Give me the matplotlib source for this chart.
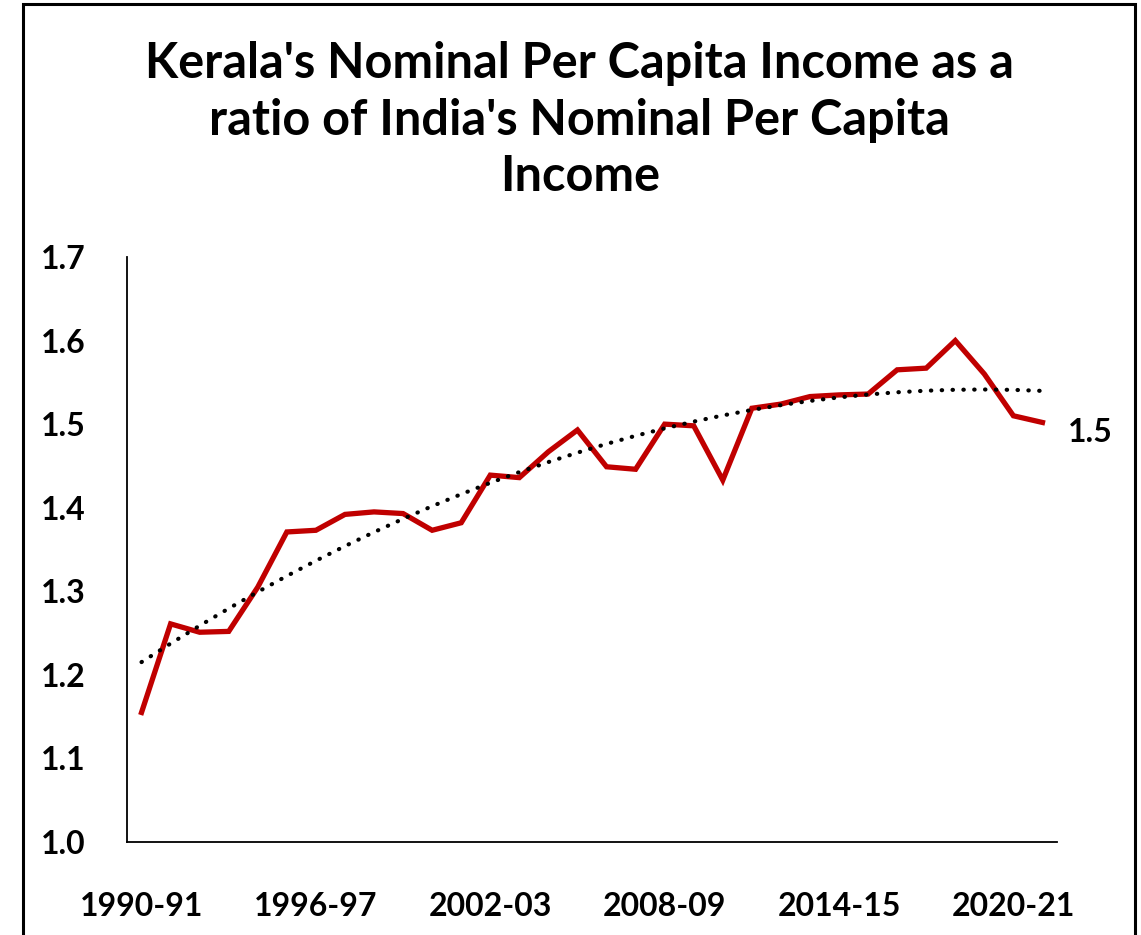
import numpy as np
import matplotlib.pyplot as plt
from matplotlib.patches import Rectangle

# Kerala per capita income / India per capita income (nominal)
years = ["1990-91", "1991-92", "1992-93", "1993-94", "1994-95", "1995-96",
         "1996-97", "1997-98", "1998-99", "1999-00", "2000-01", "2001-02",
         "2002-03", "2003-04", "2004-05", "2005-06", "2006-07", "2007-08",
         "2008-09", "2009-10", "2010-11", "2011-12", "2012-13", "2013-14",
         "2014-15", "2015-16", "2016-17", "2017-18", "2018-19", "2019-20",
         "2020-21", "2021-22"]
ratio = [1.155, 1.261, 1.251, 1.252, 1.305, 1.371, 1.373, 1.392, 1.395,
         1.393, 1.373, 1.382, 1.439, 1.436, 1.467, 1.493, 1.449, 1.446,
         1.500, 1.498, 1.433, 1.519, 1.524, 1.533, 1.535, 1.536, 1.565,
         1.567, 1.600, 1.560, 1.510, 1.502]
tick_labels = ["1990-91", "1996-97", "2002-03", "2008-09", "2014-15", "2020-21"]

font = "Lato"
red = "#C00000"

fig = plt.figure(figsize=(11.41, 9.35), dpi=100)
ax = fig.add_axes([127 / 1141, 1 - 842 / 935, 930 / 1141, 585 / 935])

x = np.arange(len(ratio))
ax.plot(x, ratio, color=red, linewidth=3.8, solid_joinstyle="miter", zorder=3)

# Excel-style polynomial (order 2) trendline
coef = np.polyfit(x + 1, ratio, 2)
trend = np.polyval(coef, x + 1)
ax.plot(x, trend, color="black", linewidth=3.0, linestyle=(0, (0.1, 2.5)),
        dash_capstyle="round", zorder=4)

ax.annotate(f"{ratio[-1]:.1f}", (x[-1], ratio[-1]), xytext=(18, -7),
            textcoords="offset points", ha="left", va="center",
            fontsize=23, fontweight="bold", family=font)

ax.set_xlim(-0.5, len(ratio) - 0.5)
ax.set_ylim(1.0, 1.7)
ax.set_yticks(np.arange(1.0, 1.71, 0.1))
ax.set_yticklabels([f"{v:.1f}" for v in np.arange(1.0, 1.71, 0.1)])
ax.set_xticks([years.index(t) for t in tick_labels])
ax.set_xticklabels(tick_labels)
ax.tick_params(length=0, labelsize=23)
ax.tick_params(axis="y", pad=46)
ax.tick_params(axis="x", pad=36)
for lab in ax.get_yticklabels():
    lab.set_ha("center")
for lab in ax.get_xticklabels() + ax.get_yticklabels():
    lab.set_fontweight("bold")
    lab.set_family(font)

ax.spines["top"].set_visible(False)
ax.spines["right"].set_visible(False)
ax.spines["left"].set_linewidth(1.3)
ax.spines["bottom"].set_linewidth(1.3)

fig.text(0.508, 1 - 120 / 935,
         "Kerala's Nominal Per Capita Income as a\nratio of India's Nominal Per Capita\nIncome",
         ha="center", va="center", fontsize=35, fontweight="bold", family=font,
         linespacing=1.3)

# outer frame of the original screenshot
fig.patches.append(Rectangle((23 / 1141, -0.05), 1112 / 1141, 1.05 - 4 / 935,
                             transform=fig.transFigure, fill=False,
                             edgecolor="black", linewidth=2.2))

fig.savefig("out.png", dpi=100)
